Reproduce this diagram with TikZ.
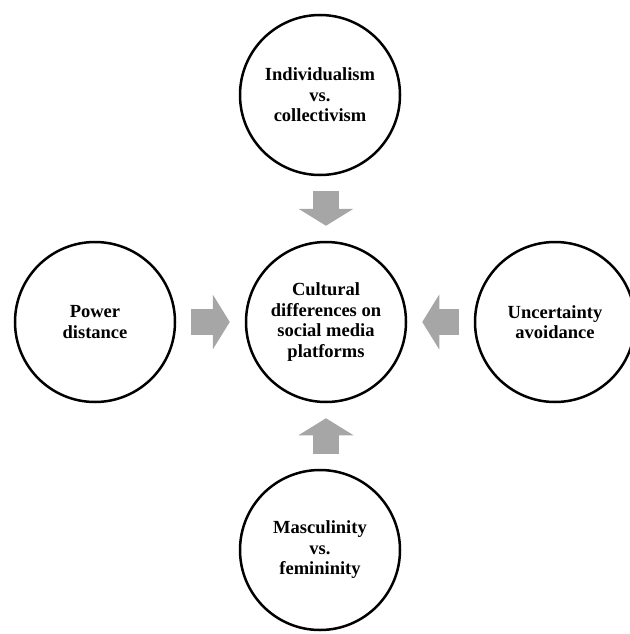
\documentclass[tikz,border=0pt]{standalone}
\usepackage{fontspec}
\setmainfont{Liberation Serif}
\usetikzlibrary{positioning,arrows.meta}
\definecolor{arrowgray}{RGB}{166,166,166}

\begin{document}
\begin{tikzpicture}[
    factor/.style={draw, circle, line width=2.5pt, minimum size=160pt, inner sep=0pt,
      align=center, font=\fontsize{18.5}{20.5}\selectfont\bfseries},
    fatarrow/.style={draw=arrowgray, line width=26pt, shorten <=15pt, shorten >=15pt,
      -{Triangle[width=55pt,length=17pt,line width=0pt]}}
  ]
  \useasboundingbox (0,0) rectangle (629pt,-634pt);

  % Cerchi
  \node [factor] (cdiff) at (326pt,-322pt) {Cultural\\differences on\\social media\\platforms};
  \node [factor, above=64.5pt of cdiff, xshift=-6pt] (indiv) {Individualism\\vs.\\collectivism};
  \node [factor, left=68.5pt of cdiff] (power) {Power\\distance};
  \node [factor, right=66.5pt of cdiff] (uncert) {Uncertainty\\avoidance};
  \node [factor, below=65.5pt of cdiff, xshift=-6pt] (mascul) {Masculinity\\vs.\\femininity};

  % Frecce
  \draw [fatarrow] (cdiff.north |- indiv.south) -- (cdiff.north);
  \draw [fatarrow] (power.east) -- (cdiff.west);
  \draw [fatarrow] (uncert.west) -- (cdiff.east);
  \draw [fatarrow] (cdiff.south |- mascul.north) -- (cdiff.south);
\end{tikzpicture}
\end{document}
